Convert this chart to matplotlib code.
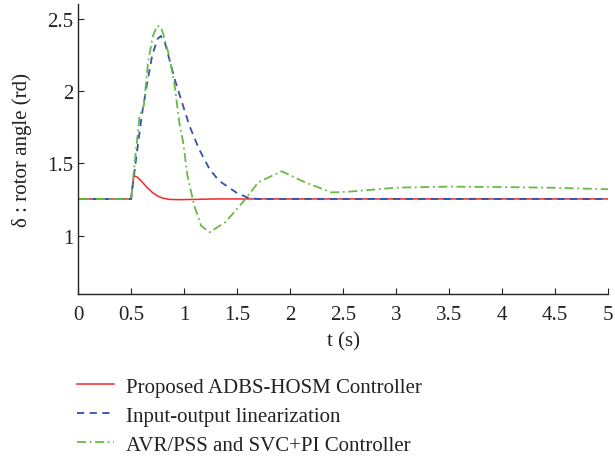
import matplotlib
matplotlib.use('Agg')
import matplotlib.pyplot as plt

plt.rcParams['font.family'] = ['Liberation Serif', 'DejaVu Serif']

# Proposed ADBS-HOSM controller
t_red = [0, 0.5, 0.51, 0.527, 0.56, 0.6, 0.65, 0.7, 0.75, 0.8, 0.86, 0.95, 1.1, 1.3, 5]
d_red = [1.255, 1.255, 1.33, 1.414, 1.405, 1.375, 1.335, 1.30, 1.275, 1.26, 1.252, 1.25, 1.252, 1.255, 1.255]

# Input-output linearization
t_blue = [0, 0.5, 0.55, 0.6, 0.65, 0.7, 0.75, 0.78, 0.82, 0.86, 0.92, 1.05, 1.14, 1.24, 1.33, 1.49, 1.61, 1.7, 5]
d_blue = [1.255, 1.255, 1.55, 1.83, 2.05, 2.25, 2.36, 2.38, 2.33, 2.22, 2.06, 1.76, 1.60, 1.46, 1.38, 1.30, 1.26, 1.255, 1.255]

# AVR/PSS and SVC+PI controller
t_green = [0, 0.5, 0.54, 0.58, 0.62, 0.66, 0.705, 0.746, 0.78, 0.8, 0.86, 0.91, 0.955, 0.99, 1.03, 1.095,
           1.16, 1.24, 1.39, 1.55, 1.70, 1.92, 2.14, 2.39, 2.55, 3.0, 3.5, 4.0, 4.5, 5.0]
d_green = [1.255, 1.255, 1.55, 1.83, 1.90, 2.20, 2.38, 2.45, 2.44, 2.40, 2.24, 2.04, 1.78, 1.65, 1.42, 1.21,
           1.07, 1.025, 1.095, 1.23, 1.37, 1.446, 1.37, 1.30, 1.305, 1.333, 1.34, 1.337, 1.332, 1.322]

labels = ['Proposed ADBS-HOSM Controller', 'Input-output linearization',
          'AVR/PSS and SVC+PI Controller']

fig = plt.figure(figsize=(6.15, 4.6), dpi=100)
ax = fig.add_axes([0.127, 0.359, 0.862, 0.630])

ax.plot(t_red, d_red, color='#ee2a2a', lw=1.1, ls='-', label=labels[0])
ax.plot(t_blue, d_blue, color='#2f52b0', lw=1.3, ls=(0, (4, 3)), label=labels[1])
ax.plot(t_green, d_green, color='#66bb44', lw=1.3, ls=(0, (5, 2, 1, 2)), label=labels[2])

ax.set_xlim(0, 5)
ax.set_ylim(0.6, 2.6)
ax.set_xticks([0, 0.5, 1, 1.5, 2, 2.5, 3, 3.5, 4, 4.5, 5])
ax.set_xticklabels(['0', '0.5', '1', '1.5', '2', '2.5', '3', '3.5', '4', '4.5', '5'])
ax.set_yticks([1, 1.5, 2, 2.5])
ax.set_yticklabels(['1', '1.5', '2', '2.5'])
ax.tick_params(direction='in', labelsize=15, length=4, color='#222222', labelcolor='#222222')
ax.tick_params(axis='x', pad=8)
for s in ['top', 'right']:
    ax.spines[s].set_visible(False)
for s in ['left', 'bottom']:
    ax.spines[s].set_color('#222222')
    ax.spines[s].set_linewidth(1.0)

ax.set_xlabel('t (s)', fontsize=15, color='#222222', labelpad=5)
ax.set_ylabel('δ : rotor angle (rd)', fontsize=15, color='#222222', labelpad=11)

fig.legend(loc='upper left', bbox_to_anchor=(0.125, 0.178), frameon=False, fontsize=15,
           handlelength=1.8, handletextpad=0.55, labelspacing=0.45, labelcolor='#222222',
           borderaxespad=0, borderpad=0)

fig.savefig('out.png', dpi=100)
